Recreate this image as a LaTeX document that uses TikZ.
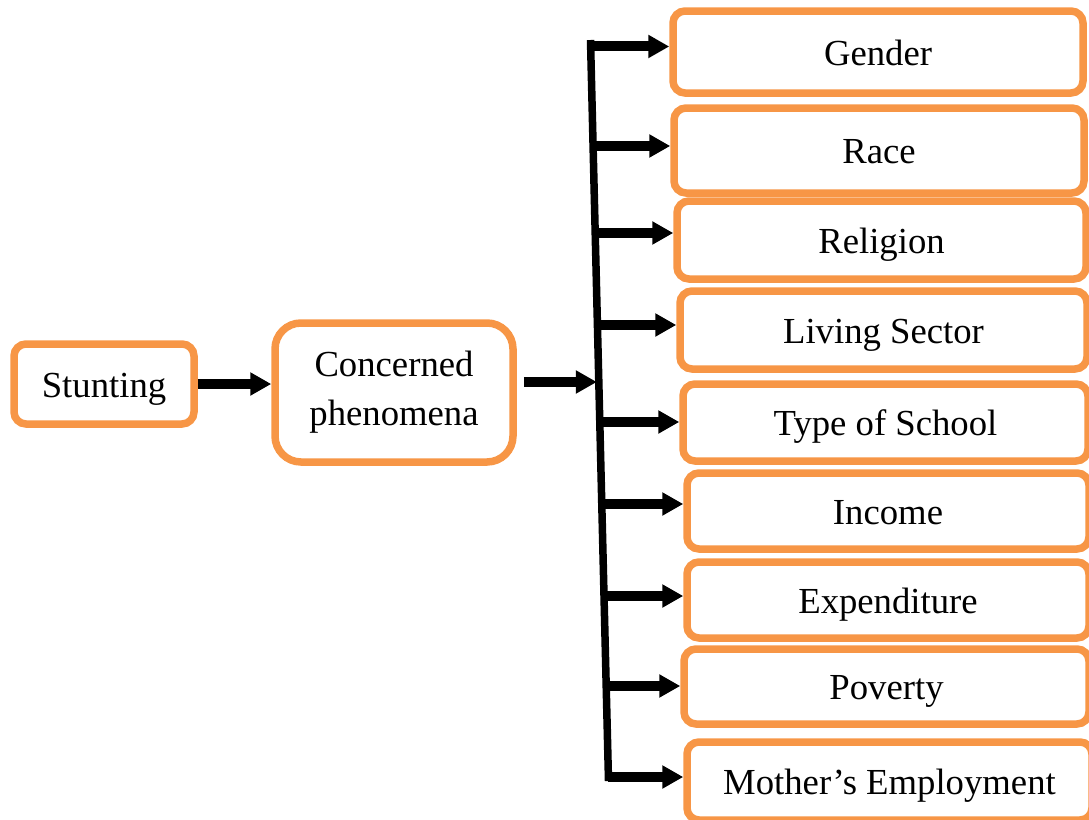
\documentclass[tikz,border=0pt]{standalone}
\usepackage{fontspec}
\setmainfont{Liberation Serif}
\usetikzlibrary{arrows.meta,calc}
\definecolor{boxorange}{HTML}{F79646}
\begin{document}
\begin{tikzpicture}[x=1pt,y=-1pt,
  box/.style={draw=boxorange, line width=7.5pt, rounded corners=12pt, fill=white,
    inner sep=0pt, font=\fontsize{36.7}{49}\selectfont, align=center},
  onebox/.style={box, text height=30pt, text depth=4pt},
  conn/.style={line width=10pt, -{Triangle[length=21pt,width=22pt]}},
  busline/.style={line width=7.5pt}]
\useasboundingbox (0,0) rectangle (1089,819);
\clip (0,0) rectangle (1089,819);

% left nodes
\node[onebox, minimum width=180pt, minimum height=80pt] (st) at (104,384) {Stunting};
\node[box, rounded corners=26pt, minimum width=238pt, minimum height=139pt] (cp) at (394,392.5) {Concerned\\phenomena};

% right column
\node[onebox, minimum width=410pt, minimum height=82pt] (n1) at (878,52) {Gender};
\node[onebox, minimum width=410pt, minimum height=85pt] (n2) at (879,150.5) {Race};
\node[onebox, minimum width=409pt, minimum height=78pt] (n3) at (881.5,240) {Religion};
\node[onebox, minimum width=407pt, minimum height=78pt] (n4) at (883.5,330) {Living Sector};
\node[onebox, minimum width=405pt, minimum height=77pt] (n5) at (885.5,422.5) {Type of School};
\node[onebox, minimum width=402pt, minimum height=76pt] (n6) at (888,511) {Income};
\node[onebox, minimum width=402pt, minimum height=76pt] (n7) at (888,600) {Expenditure};
\node[onebox, minimum width=405pt, minimum height=75pt] (n8) at (886.5,686.5) {Poverty};
\node[onebox, minimum width=405pt, minimum height=78pt] (n9) at (889.5,781) {Mother’s Employment};

% bus
\coordinate (bt) at (590.5,40);
\coordinate (bb) at (608.5,781);
\draw[busline] (bt) -- (bb);

% main arrows
\draw[conn] (st.east) -- (cp.west |- st.east);
\coordinate (bc) at ($(bt)!{(382-40)/741}!(bb)$);
\draw[conn] ($(cp.east |- bc)+(7,0)$) -- ($(bc)+(-2,0)$);

% branches
\foreach \n/\ay in {n1/46.5, n2/146, n3/233, n4/325, n5/422, n6/504, n7/596, n8/686, n9/777}{
  \coordinate (b-\n) at ($(bt)!{(\ay-40)/741}!(bb)$);
  \draw[conn] (b-\n) -- (\n.west |- b-\n);
}
\end{tikzpicture}
\end{document}
